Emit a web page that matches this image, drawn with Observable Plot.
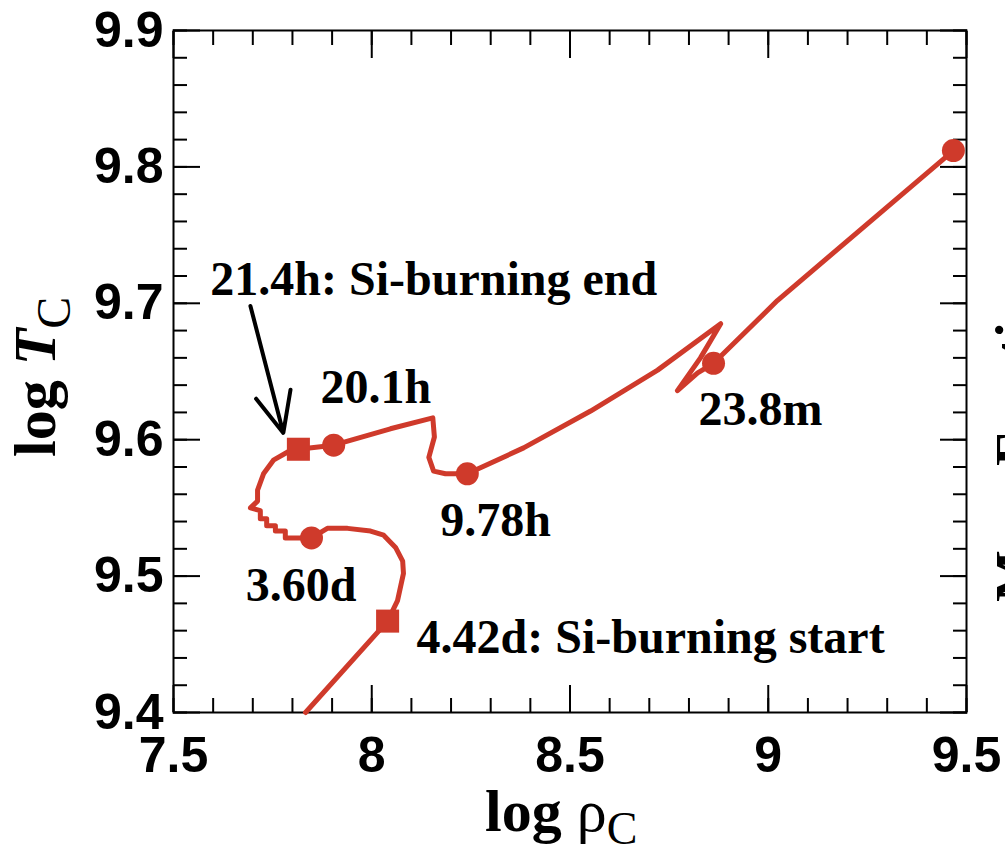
<!DOCTYPE html>
<html>
<head>
<meta charset="utf-8">
<script src="https://cdn.jsdelivr.net/npm/d3@7"></script>
<script src="https://cdn.jsdelivr.net/npm/@observablehq/plot@0.6"></script>
<style>
  html, body { margin: 0; padding: 0; background: #fff; overflow: hidden; }
  #chart { position: relative; width: 1005px; height: 851px; overflow: hidden; }
</style>
</head>
<body>
<div id="chart"></div>
<script>
// Central density / temperature track of the core through Si burning
const logRho = [7.833, 8.040, 8.065, 8.080, 8.078, 8.060, 8.030, 7.997, 7.939, 7.888, 7.848,
  7.790, 7.782, 7.782, 7.757, 7.757, 7.735, 7.735, 7.719, 7.719, 7.694,
  7.712, 7.712, 7.727, 7.752, 7.788, 7.815, 7.904, 8.047, 8.154, 8.158, 8.144, 8.156, 8.186,
  8.241, 8.383, 8.552, 8.721, 8.880, 8.829, 8.771, 8.822, 8.862, 9.023, 9.467];
const logT = [9.400, 9.467, 9.482, 9.502, 9.511, 9.521, 9.530, 9.533, 9.535, 9.535, 9.528,
  9.528, 9.528, 9.533, 9.533, 9.537, 9.537, 9.542, 9.542, 9.548, 9.550,
  9.555, 9.563, 9.575, 9.585, 9.591, 9.593, 9.596, 9.608, 9.616, 9.602, 9.587, 9.577, 9.575,
  9.575, 9.594, 9.621, 9.651, 9.685, 9.660, 9.636, 9.649, 9.656, 9.702, 9.812];

// Epoch markers (time before collapse)
const circleRho = [7.848, 7.904, 8.241, 8.862, 9.467];
const circleT   = [9.528, 9.596, 9.575, 9.656, 9.812];
const squareRho = [8.040, 7.815];
const squareT   = [9.467, 9.593];

// Annotations (left edge of each label, in data units)
const labelText = ["21.4h: Si-burning end", "20.1h", "9.78h", "23.8m", "3.60d", "4.42d: Si-burning start"];
const labelRho  = [7.593, 7.871, 8.173, 8.824, 7.682, 8.113];
const labelT    = [9.717, 9.638, 9.541, 9.622, 9.493, 9.455];

// Arrow pointing at the end of Si burning
const arrowFrom = [7.694, 9.698];
const arrowTo   = [7.777, 9.605];

// Axis ticks
const xMajor = [7.5, 8, 8.5, 9, 9.5];
const yMajor = [9.4, 9.5, 9.6, 9.7, 9.8, 9.9];
const xMinor = d3.range(75, 96).map(v => v / 10);
const yMinor = d3.range(470, 496).map(v => v / 50);

const track = logRho.map((x, i) => ({x, y: logT[i]}));
const circles = circleRho.map((x, i) => ({x, y: circleT[i]}));
const squares = squareRho.map((x, i) => ({x, y: squareT[i]}));
const labels = labelText.map((t, i) => ({t, x: labelRho[i], y: labelT[i]}));
const arrows = [{x1: arrowFrom[0], y1: arrowFrom[1], x2: arrowTo[0], y2: arrowTo[1]}];

const red = "#cf3a2b";
const sans = "'Liberation Sans', Arial, sans-serif";
const serif = "'Liberation Serif', 'Times New Roman', serif";

// inward ticks on all four sides: outward axis ticks shifted back inside the frame
const xTicks = (ticks, len) => [
  Plot.axisX(ticks, {anchor: "bottom", tickSize: len, dy: -len, text: null, label: null, strokeWidth: 2}),
  Plot.axisX(ticks, {anchor: "top", tickSize: len, dy: len, text: null, label: null, strokeWidth: 2})
];
const yTicks = (ticks, len) => [
  Plot.axisY(ticks, {anchor: "left", tickSize: len, dx: len, text: null, label: null, strokeWidth: 2}),
  Plot.axisY(ticks, {anchor: "right", tickSize: len, dx: -len, text: null, label: null, strokeWidth: 2})
];

const svg = Plot.plot({
  width: 1005,
  height: 851,
  marginLeft: 173,
  marginRight: 39,
  marginTop: 30,
  marginBottom: 139,
  style: {fontFamily: sans, background: "#fff", color: "#000"},
  x: {domain: [7.5, 9.5]},
  y: {domain: [9.4, 9.9]},
  marks: [
    ...xTicks(xMinor, 14),
    ...xTicks(xMajor, 27),
    ...yTicks(yMinor, 14),
    ...yTicks(yMajor, 27),
    Plot.axisX({anchor: "bottom", ticks: xMajor, tickSize: 0, tickPadding: 24, label: null,
      tickFormat: d => String(d), fontSize: 50, fontWeight: "bold", fontFamily: sans}),
    Plot.axisY({anchor: "left", ticks: yMajor, tickSize: 0, tickPadding: 10, label: null,
      tickFormat: d => d.toFixed(1), fontSize: 50, fontWeight: "bold", fontFamily: sans}),
    Plot.frame({stroke: "#000", strokeWidth: 2}),
    Plot.line(track, {x: "x", y: "y", stroke: red, strokeWidth: 5, curve: "linear"}),
    Plot.dot(circles, {x: "x", y: "y", r: 11.5, fill: red, symbol: "circle"}),
    Plot.dot(squares, {x: "x", y: "y", r: 13, fill: red, symbol: "square"}),
    Plot.arrow(arrows, {x1: "x1", y1: "y1", x2: "x2", y2: "y2", stroke: "#000",
      strokeWidth: 4, headLength: 27, headAngle: 48}),
    Plot.text(labels, {x: "x", y: "y", text: "t", textAnchor: "start", lineAnchor: "middle",
      fontFamily: serif, fontWeight: "bold", fontSize: 48, fill: "#000"})
  ]
});

const s = d3.select(svg);

// x-axis title: log ρ_C
const xt = s.append("text")
  .attr("x", 485).attr("y", 831).attr("text-anchor", "start")
  .attr("font-family", serif).attr("font-size", 60).attr("fill", "#000");
xt.append("tspan").attr("font-weight", "bold").text("log ");
xt.append("tspan").text("ρ");
xt.append("tspan").attr("font-size", 46).attr("dy", 13).text("C");

// y-axis title: log T_C
const yt = s.append("text")
  .attr("transform", "translate(55,457) rotate(-90)").attr("text-anchor", "start")
  .attr("font-family", serif).attr("font-size", 60).attr("fill", "#000");
yt.append("tspan").attr("font-weight", "bold").text("log ");
yt.append("tspan").attr("font-weight", "bold").attr("font-style", "italic").text("T");
yt.append("tspan").attr("font-size", 48).attr("dy", 15).text("C");

// neighbouring panel's axis title, cut by the page edge
s.append("text")
  .attr("transform", "translate(1033,602) rotate(-90)").attr("text-anchor", "start")
  .attr("font-family", serif).attr("font-weight", "bold").attr("font-size", 55).attr("fill", "#000")
  .text("Mass Fraction");

document.getElementById("chart").append(svg);
</script>
</body>
</html>
